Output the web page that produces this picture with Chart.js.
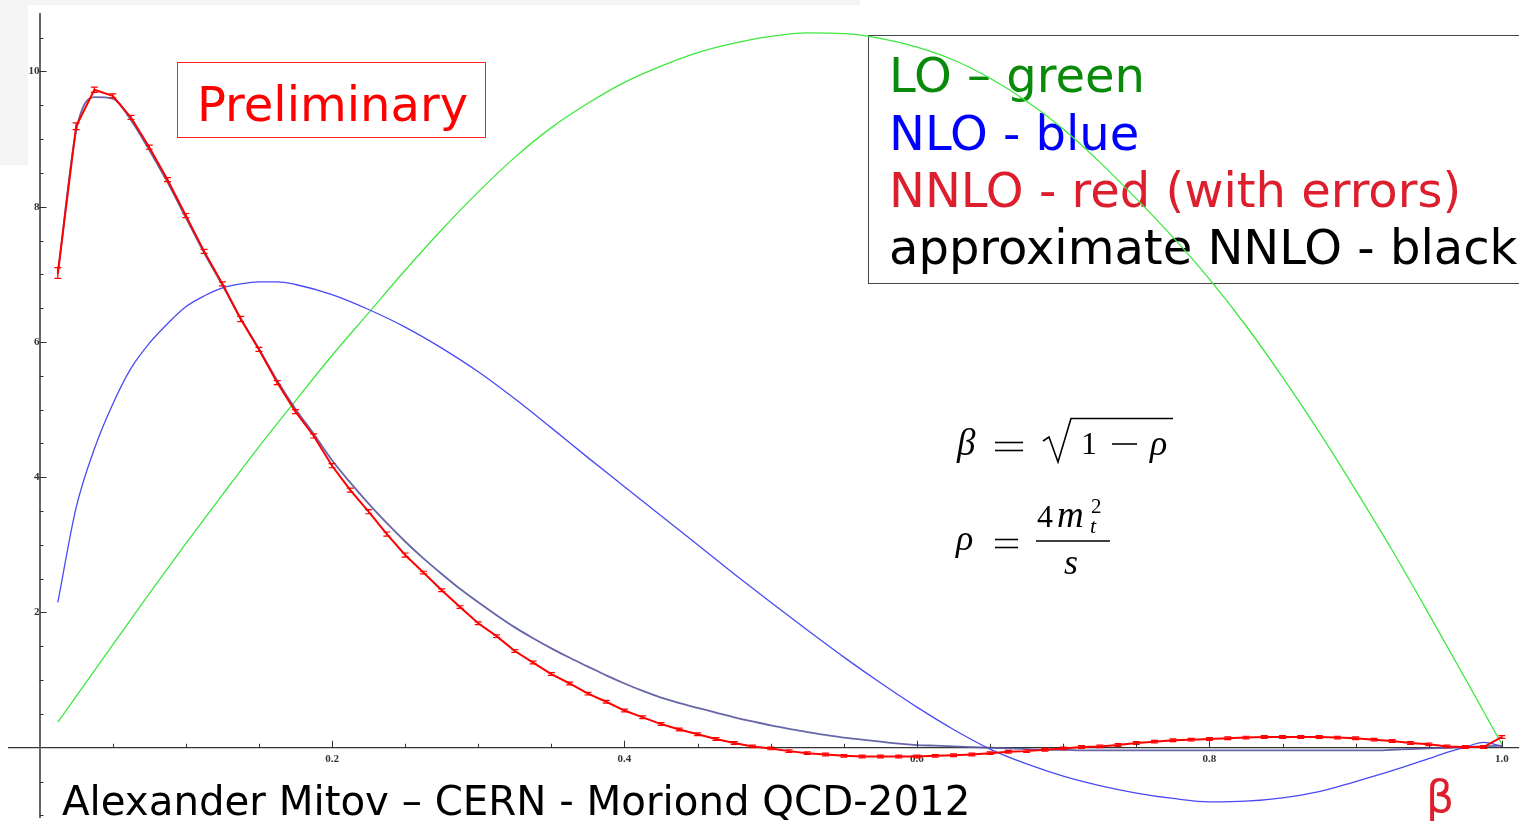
<!DOCTYPE html>
<html>
<head>
<meta charset="utf-8">
<title>Seccion eficaz vs beta</title>
<script src="https://cdn.jsdelivr.net/npm/chart.js@4/dist/chart.umd.min.js"></script>
<style>
  html, body { margin: 0; padding: 0; background: #fff; overflow: hidden; }
  #grafico { display: block; }
</style>
</head>
<body>
<canvas id="grafico" width="1519" height="824"></canvas>
<script>
// malla en beta para NNLO (con errores) y NNLO aproximado
let beta = [0.0125, 0.025, 0.0375, 0.05, 0.0625, 0.075, 0.0875, 0.1,
  0.1125, 0.125, 0.1375, 0.15, 0.1625, 0.175, 0.1875, 0.2,
  0.2125, 0.225, 0.2375, 0.25, 0.2625, 0.275, 0.2875, 0.3,
  0.3125, 0.325, 0.3375, 0.35, 0.3625, 0.375, 0.3875, 0.4,
  0.4125, 0.425, 0.4375, 0.45, 0.4625, 0.475, 0.4875, 0.5,
  0.5125, 0.525, 0.5375, 0.55, 0.5625, 0.575, 0.5875, 0.6,
  0.6125, 0.625, 0.6375, 0.65, 0.6625, 0.675, 0.6875, 0.7,
  0.7125, 0.725, 0.7375, 0.75, 0.7625, 0.775, 0.7875, 0.8,
  0.8125, 0.825, 0.8375, 0.85, 0.8625, 0.875, 0.8875, 0.9,
  0.9125, 0.925, 0.9375, 0.95, 0.9625, 0.975, 0.9875, 1.0];

// NNLO - rojo
let nnlo = [7.02, 9.19, 9.73, 9.64, 9.32, 8.88, 8.40, 7.87,
  7.34, 6.86, 6.34, 5.89, 5.40, 4.97, 4.61, 4.17,
  3.81, 3.49, 3.16, 2.85, 2.59, 2.33, 2.08, 1.84,
  1.65, 1.43, 1.26, 1.09, 0.95, 0.80, 0.68, 0.55,
  0.45, 0.35, 0.27, 0.20, 0.13, 0.07, 0.02, -0.01,
  -0.05, -0.08, -0.10, -0.12, -0.13, -0.13, -0.13, -0.13,
  -0.12, -0.11, -0.10, -0.08, -0.06, -0.05, -0.03, -0.01,
  0.01, 0.02, 0.04, 0.07, 0.09, 0.11, 0.12, 0.13,
  0.14, 0.15, 0.16, 0.16, 0.16, 0.16, 0.15, 0.14,
  0.12, 0.10, 0.07, 0.05, 0.02, 0.01, 0.01, 0.16];

let nnloErr = [0.08, 0.05, 0.04, 0.03, 0.03, 0.03, 0.03, 0.03,
  0.03, 0.03, 0.04, 0.03, 0.03, 0.03, 0.03, 0.03,
  0.03, 0.03, 0.03, 0.03, 0.02, 0.02, 0.02, 0.02,
  0.02, 0.02, 0.02, 0.02, 0.02, 0.02, 0.02, 0.02,
  0.02, 0.02, 0.02, 0.02, 0.02, 0.02, 0.02, 0.02,
  0.02, 0.02, 0.02, 0.02, 0.02, 0.02, 0.02, 0.02,
  0.02, 0.02, 0.02, 0.02, 0.02, 0.02, 0.02, 0.02,
  0.02, 0.02, 0.02, 0.02, 0.02, 0.02, 0.02, 0.02,
  0.02, 0.02, 0.02, 0.02, 0.02, 0.02, 0.02, 0.02,
  0.02, 0.02, 0.02, 0.02, 0.02, 0.02, 0.02, 0.02];

// NNLO aproximado - "negro"
let nnloAprox = [7.00, 9.12, 9.62, 9.60, 9.28, 8.84, 8.36, 7.84,
  7.32, 6.84, 6.35, 5.90, 5.43, 5.01, 4.64, 4.25,
  3.92, 3.61, 3.32, 3.05, 2.80, 2.57, 2.35, 2.15,
  1.96, 1.78, 1.62, 1.47, 1.33, 1.20, 1.07, 0.95,
  0.84, 0.74, 0.66, 0.59, 0.52, 0.45, 0.39, 0.33,
  0.28, 0.23, 0.19, 0.15, 0.12, 0.09, 0.06, 0.04,
  0.03, 0.02, 0.01, 0.00, -0.01, -0.02, -0.03, -0.03,
  -0.04, -0.04, -0.04, -0.04, -0.04, -0.04, -0.04, -0.04,
  -0.04, -0.04, -0.04, -0.04, -0.04, -0.04, -0.04, -0.04,
  -0.04, -0.03, -0.02, -0.01, 0.00, 0.01, 0.02, 0.03];

// NLO - azul
let betaNlo = [0.0125, 0.025, 0.0375, 0.05, 0.0625, 0.075, 0.0875, 0.1,
  0.1125, 0.125, 0.1375, 0.15, 0.1625, 0.175,
  0.2, 0.225, 0.25, 0.275, 0.3, 0.325, 0.35, 0.375, 0.4, 0.425,
  0.45, 0.475, 0.5, 0.525, 0.55, 0.575, 0.6, 0.625, 0.65, 0.675,
  0.7, 0.725, 0.75, 0.775, 0.8, 0.825, 0.85, 0.875, 0.9, 0.925, 0.95,
  0.9625, 0.975, 0.9875, 1.0];
let nlo = [2.15, 3.55, 4.42, 5.08, 5.61, 5.98, 6.27, 6.52,
  6.68, 6.80, 6.86, 6.89, 6.89, 6.85,
  6.70, 6.48, 6.22, 5.91, 5.56, 5.16, 4.73, 4.29, 3.86, 3.43,
  3.00, 2.57, 2.15, 1.74, 1.34, 0.96, 0.60, 0.27, -0.02, -0.24,
  -0.42, -0.56, -0.67, -0.75, -0.80, -0.79, -0.74, -0.65, -0.50, -0.34, -0.16,
  -0.07, 0.01, 0.08, 0.02];

// LO - verde
let betaLo = [0.0125, 0.025, 0.05, 0.075, 0.1, 0.125, 0.15, 0.175,
  0.2, 0.225, 0.25, 0.275, 0.3, 0.325, 0.35, 0.375, 0.4, 0.425,
  0.45, 0.475, 0.5, 0.525, 0.55, 0.575, 0.6, 0.625, 0.65, 0.675,
  0.7, 0.725, 0.75, 0.775, 0.8, 0.825, 0.85, 0.875, 0.9, 0.925,
  0.95, 0.975, 1.0];
let lo = [0.38, 0.76, 1.52, 2.28, 3.02, 3.74, 4.45, 5.13,
  5.80, 6.43, 7.06, 7.66, 8.22, 8.73, 9.17, 9.53, 9.84, 10.08,
  10.28, 10.42, 10.52, 10.57, 10.56, 10.49, 10.36, 10.17, 9.90, 9.56,
  9.15, 8.66, 8.12, 7.55, 6.93, 6.24, 5.48, 4.67, 3.81, 2.92,
  1.98, 1.02, 0.05];

// ejes
let xTicks = [0.2, 0.4, 0.6, 0.8, 1.0];
let xTickLabels = ['0.2', '0.4', '0.6', '0.8', '1.0'];
let xMinor = [0.05, 0.1, 0.15, 0.25, 0.3, 0.35, 0.45, 0.5, 0.55, 0.65, 0.7, 0.75, 0.85, 0.9, 0.95];
let yTicks = [2, 4, 6, 8, 10];
let yTickLabels = ['2', '4', '6', '8', '10'];
let yMinor = [-1, -0.5, 0.5, 1, 1.5, 2.5, 3, 3.5, 4.5, 5, 5.5, 6.5, 7, 7.5, 8.5, 9, 9.5, 10.5];

function puntos(xs, ys) {
  return xs.map((x, i) => ({ x: x, y: ys[i] }));
}

function texto(ctx, str, x, y, font, color, align) {
  ctx.font = font;
  ctx.fillStyle = color;
  ctx.textAlign = align || 'left';
  ctx.textBaseline = 'alphabetic';
  ctx.fillText(str, x, y);
}

function linea(ctx, x1, y1, x2, y2, w) {
  ctx.lineWidth = w;
  ctx.beginPath();
  ctx.moveTo(x1, y1);
  ctx.lineTo(x2, y2);
  ctx.stroke();
}

const decorado = {
  id: 'decorado',
  beforeDraw(chart) {
    const ctx = chart.ctx;
    ctx.save();
    ctx.fillStyle = '#f5f5f5';
    ctx.fillRect(0, 0, 28, 165);
    ctx.fillRect(0, 0, 860, 5);
    ctx.restore();
  },
  beforeDatasetsDraw(chart) {
    const ctx = chart.ctx;
    ctx.save();
    const sans = '"DejaVu Sans", Verdana, sans-serif';

    // recuadro "Preliminary"
    ctx.strokeStyle = '#ff2020';
    ctx.lineWidth = 1;
    ctx.strokeRect(177.5, 62.5, 308, 75);
    texto(ctx, 'Preliminary', 197, 121, '48px ' + sans, '#ff0000');

    // leyenda
    ctx.strokeStyle = '#444';
    ctx.strokeRect(868.5, 35.5, 700, 248);
    texto(ctx, 'LO \u2013 green', 889, 92, '48px ' + sans, '#0a8a0a');
    texto(ctx, 'NLO - blue', 889, 150, '48px ' + sans, '#0000ff');
    texto(ctx, 'NNLO - red (with errors)', 889, 207, '48px ' + sans, '#dc1e2d');
    texto(ctx, 'approximate NNLO - black', 889, 264, '48px ' + sans, '#000');

    // formulas
    const serif = '"Liberation Serif", "Times New Roman", serif';
    ctx.strokeStyle = '#000';
    texto(ctx, '\u03b2', 957, 455, 'italic 37px ' + serif, '#000');
    linea(ctx, 995, 442.5, 1023, 442.5, 1.6);
    linea(ctx, 995, 450.5, 1023, 450.5, 1.6);
    ctx.lineWidth = 1.6;
    ctx.beginPath();
    ctx.moveTo(1043, 441);
    ctx.lineTo(1049, 437);
    ctx.lineTo(1058, 462);
    ctx.lineTo(1071, 418.5);
    ctx.lineTo(1173, 418.5);
    ctx.stroke();
    texto(ctx, '1', 1081, 454, '32px ' + serif, '#000');
    linea(ctx, 1112, 444, 1137, 444, 1.6);
    texto(ctx, '\u03c1', 1150, 455, 'italic 36px ' + serif, '#000');

    texto(ctx, '\u03c1', 956, 550, 'italic 36px ' + serif, '#000');
    linea(ctx, 995, 539.5, 1018, 539.5, 1.6);
    linea(ctx, 995, 547.5, 1018, 547.5, 1.6);
    linea(ctx, 1036, 541, 1110, 541, 1.4);
    texto(ctx, '4', 1037, 527, '32px ' + serif, '#000');
    texto(ctx, 'm', 1057, 527, 'italic 37px ' + serif, '#000');
    texto(ctx, '2', 1091, 513, '21px ' + serif, '#000');
    texto(ctx, 't', 1090, 533, 'italic 22px ' + serif, '#000');
    texto(ctx, 's', 1064, 574, 'italic 36px ' + serif, '#000');

    // pie
    texto(ctx, 'Alexander Mitov \u2013 CERN - Moriond QCD-2012', 62, 815, '40.3px ' + sans, '#000');
    texto(ctx, '\u03b2', 1426, 812, '44px ' + sans, '#dc1e2d');
    ctx.restore();
  },
  afterDatasetsDraw(chart) {
    // barras de error del NNLO
    const ctx = chart.ctx;
    const xs = chart.scales.x, ys = chart.scales.y;
    ctx.save();
    ctx.strokeStyle = '#ff0000';
    ctx.lineWidth = 1.2;
    for (let i = 0; i < beta.length; i++) {
      const px = xs.getPixelForValue(beta[i]);
      const y1 = ys.getPixelForValue(nnlo[i] + nnloErr[i]);
      const y2 = ys.getPixelForValue(nnlo[i] - nnloErr[i]);
      ctx.beginPath();
      ctx.moveTo(px, y1); ctx.lineTo(px, y2);
      ctx.moveTo(px - 3.5, y1); ctx.lineTo(px + 3.5, y1);
      ctx.moveTo(px - 3.5, y2); ctx.lineTo(px + 3.5, y2);
      ctx.stroke();
    }
    ctx.restore();
  },
  afterDraw(chart) {
    // marcas de los ejes hacia adentro
    const ctx = chart.ctx;
    const xs = chart.scales.x, ys = chart.scales.y;
    const x0 = xs.getPixelForValue(0), y0 = ys.getPixelForValue(0);
    ctx.save();
    ctx.strokeStyle = '#333';
    ctx.lineWidth = 1;
    yTicks.forEach(v => { const p = Math.round(ys.getPixelForValue(v)) + 0.5; linea(ctx, x0, p, x0 + 7, p, 1); });
    yMinor.forEach(v => { const p = Math.round(ys.getPixelForValue(v)) + 0.5; linea(ctx, x0, p, x0 + 4, p, 1); });
    xTicks.forEach(v => { const p = Math.round(xs.getPixelForValue(v)) + 0.5; linea(ctx, p, y0, p, y0 - 7, 1); });
    xMinor.forEach(v => { const p = Math.round(xs.getPixelForValue(v)) + 0.5; linea(ctx, p, y0, p, y0 - 4, 1); });
    ctx.restore();
  }
};

const fuenteEje = { family: '"Liberation Serif", serif', size: 11, weight: 'bold' };

const grafico = new Chart(document.getElementById('grafico').getContext('2d'), {
  type: 'line',
  data: {
    datasets: [
      { label: 'NNLO', data: puntos(beta, nnlo), borderColor: '#ff0000', borderWidth: 2, tension: 0, pointRadius: 0 },
      { label: 'approximate NNLO', data: puntos(beta, nnloAprox), borderColor: 'rgba(85, 85, 160, 0.9)', borderWidth: 1.8, cubicInterpolationMode: 'monotone', pointRadius: 0 },
      { label: 'NLO', data: puntos(betaNlo, nlo), borderColor: '#4a4af5', borderWidth: 1.3, cubicInterpolationMode: 'monotone', pointRadius: 0 },
      { label: 'LO', data: puntos(betaLo, lo), borderColor: '#3ee83e', borderWidth: 1.3, cubicInterpolationMode: 'monotone', pointRadius: 0 }
    ]
  },
  options: {
    responsive: false,
    animation: false,
    devicePixelRatio: 1,
    layout: { padding: { left: 9, top: 14, right: 0, bottom: 0 } },
    plugins: { legend: { display: false }, tooltip: { enabled: false } },
    scales: {
      x: {
        type: 'linear',
        min: -0.0209,
        max: 1.0117,
        position: { y: 0 },
        afterBuildTicks: (s) => { s.ticks = xTicks.map(v => ({ value: v })); },
        grid: { display: true, drawOnChartArea: false, drawTicks: true, tickLength: 5, tickColor: 'rgba(0,0,0,0)' },
        border: { display: true, color: '#333', width: 1.2 },
        ticks: { padding: 0, color: '#333', font: fuenteEje, maxRotation: 0, autoSkip: false,
          callback: (v, i) => xTickLabels[i] }
      },
      y: {
        type: 'linear',
        min: -1.03,
        max: 10.85,
        position: { x: 0 },
        afterBuildTicks: (s) => { s.ticks = yTicks.map(v => ({ value: v })); },
        grid: { display: true, drawOnChartArea: false, drawTicks: true, tickLength: 5, tickColor: 'rgba(0,0,0,0)' },
        border: { display: true, color: '#666', width: 2 },
        ticks: { padding: 0, color: '#333', font: fuenteEje, autoSkip: false,
          callback: (v, i) => yTickLabels[i] }
      }
    }
  },
  plugins: [decorado]
});
</script>
</body>
</html>
